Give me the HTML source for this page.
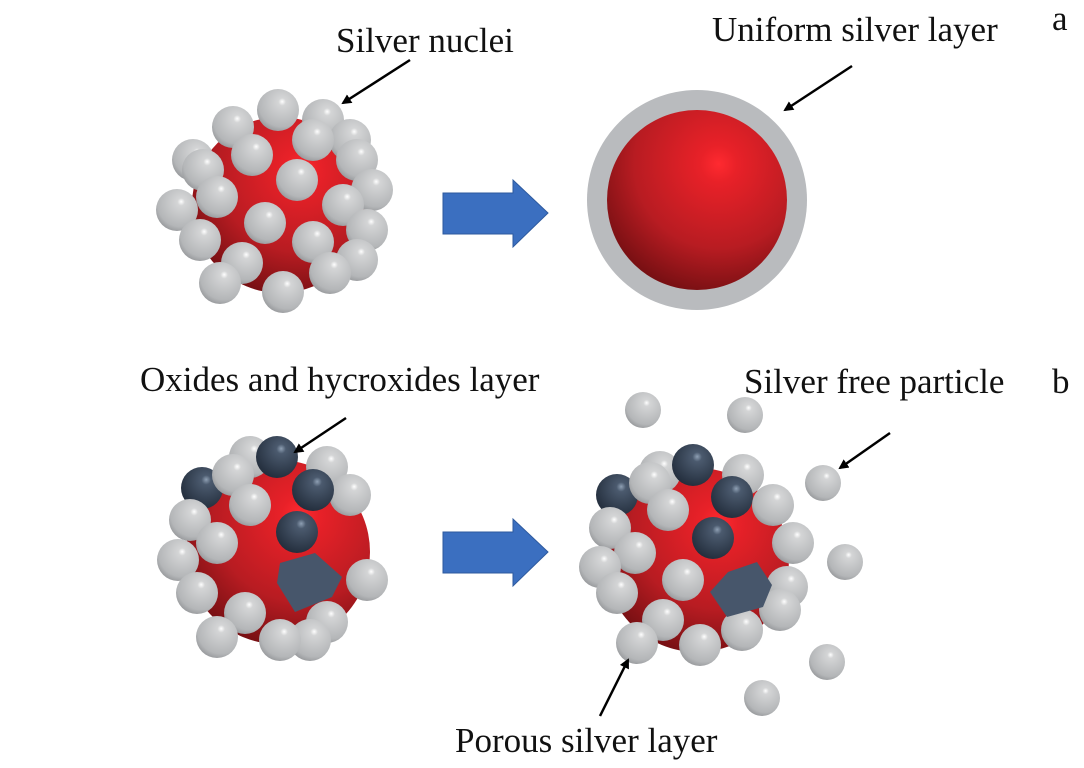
<!DOCTYPE html>
<html><head><meta charset="utf-8"><style>
html,body{margin:0;padding:0;background:#fff}
svg{display:block}
text{font-family:"Liberation Serif",serif;font-size:35px;fill:#111}
</style></head><body>
<svg width="1084" height="768" viewBox="0 0 1084 768">
<defs>
<radialGradient id="red" cx="0.62" cy="0.3" r="0.85" fx="0.62" fy="0.3">
<stop offset="0" stop-color="#ff2a30"/><stop offset="0.12" stop-color="#e82128"/>
<stop offset="0.55" stop-color="#b81c22"/><stop offset="1" stop-color="#5a0a0c"/>
</radialGradient>
<radialGradient id="ag" cx="0.6" cy="0.35" r="0.75" fx="0.6" fy="0.3">
<stop offset="0" stop-color="#ffffff"/><stop offset="0.12" stop-color="#d4d5d6"/>
<stop offset="0.75" stop-color="#b4b6b8"/><stop offset="1" stop-color="#8a8c8f"/>
</radialGradient>
<radialGradient id="dk" cx="0.6" cy="0.35" r="0.75" fx="0.6" fy="0.3">
<stop offset="0" stop-color="#8fa0b4"/><stop offset="0.15" stop-color="#4b5a6e"/>
<stop offset="1" stop-color="#1e2836"/>
</radialGradient>
<marker id="ah" markerWidth="10" markerHeight="10" refX="8" refY="5" orient="auto" markerUnits="userSpaceOnUse">
<path d="M0,0 L10,5 L0,10 z" fill="#000"/></marker>
<g id="b"><circle r="21" fill="url(#ag)"/></g>
<g id="d"><circle r="21" fill="url(#dk)"/></g>
<g id="f"><circle r="18" fill="url(#ag)"/></g>
</defs>

<circle cx="280" cy="205" r="88" fill="url(#red)"/>
<g>
<use href="#b" x="278" y="110"/><use href="#b" x="323" y="120"/><use href="#b" x="233" y="127"/>
<use href="#b" x="350" y="140"/><use href="#b" x="313" y="140"/><use href="#b" x="252" y="155"/>
<use href="#b" x="357" y="160"/><use href="#b" x="193" y="160"/><use href="#b" x="203" y="170"/>
<use href="#b" x="297" y="180"/><use href="#b" x="372" y="190"/><use href="#b" x="217" y="197"/>
<use href="#b" x="343" y="205"/><use href="#b" x="177" y="210"/><use href="#b" x="265" y="223"/>
<use href="#b" x="367" y="230"/><use href="#b" x="200" y="240"/><use href="#b" x="313" y="242"/>
<use href="#b" x="357" y="260"/><use href="#b" x="242" y="263"/><use href="#b" x="330" y="273"/>
<use href="#b" x="220" y="283"/><use href="#b" x="283" y="292"/>
</g>

<circle cx="697" cy="200" r="110" fill="#b9bbbe"/>
<circle cx="697" cy="200" r="90" fill="url(#red)"/>

<circle cx="278" cy="552" r="92" fill="url(#red)"/>
<use href="#b" x="250" y="457"/><use href="#d" x="277" y="457"/><use href="#b" x="327" y="467"/>
<use href="#b" x="350" y="495"/><use href="#d" x="202" y="488"/><use href="#b" x="233" y="475"/>
<use href="#d" x="313" y="490"/><use href="#b" x="250" y="505"/><use href="#b" x="190" y="520"/>
<use href="#d" x="297" y="532"/><use href="#b" x="217" y="543"/><use href="#b" x="178" y="560"/>
<use href="#b" x="367" y="580"/><use href="#b" x="197" y="593"/><use href="#b" x="245" y="613"/>
<use href="#b" x="327" y="622"/><use href="#b" x="217" y="637"/><use href="#b" x="310" y="640"/>
<use href="#b" x="280" y="640"/>
<polygon points="280,563 315,553 342,577 332,597 295,612 277,583" fill="#47566b"/>

<circle cx="697" cy="560" r="92" fill="url(#red)"/>
<use href="#b" x="660" y="472"/><use href="#d" x="693" y="465"/><use href="#b" x="743" y="475"/>
<use href="#d" x="617" y="495"/><use href="#b" x="650" y="483"/><use href="#d" x="732" y="497"/>
<use href="#b" x="773" y="505"/><use href="#b" x="668" y="510"/><use href="#b" x="610" y="528"/>
<use href="#d" x="713" y="538"/><use href="#b" x="793" y="543"/><use href="#b" x="635" y="553"/>
<use href="#b" x="600" y="567"/><use href="#b" x="683" y="580"/><use href="#b" x="787" y="587"/>
<use href="#b" x="617" y="593"/><use href="#b" x="780" y="610"/><use href="#b" x="663" y="620"/>
<use href="#b" x="742" y="630"/><use href="#b" x="637" y="643"/><use href="#b" x="700" y="645"/>
<polygon points="728,572 757,562 772,585 763,607 727,617 710,592" fill="#47566b"/>

<use href="#f" x="643" y="410"/><use href="#f" x="745" y="415"/><use href="#f" x="823" y="483"/>
<use href="#f" x="845" y="562"/><use href="#f" x="827" y="662"/><use href="#f" x="762" y="698"/>

<polygon points="443,193 513,193 513,180 548,213 513,247 513,234 443,234" fill="#3b6fc0" stroke="#2e5a9e" stroke-width="1"/>
<polygon points="443,532 513,532 513,519 548,552 513,586 513,573 443,573" fill="#3b6fc0" stroke="#2e5a9e" stroke-width="1"/>

<g stroke="#000" stroke-width="2.5" marker-end="url(#ah)">
<line x1="410" y1="60" x2="343" y2="103"/>
<line x1="852" y1="66" x2="785" y2="110"/>
<line x1="346" y1="418" x2="295" y2="452"/>
<line x1="890" y1="433" x2="840" y2="468"/>
<line x1="600" y1="716" x2="628" y2="660"/>
</g>

<text x="336" y="52">Silver nuclei</text>
<text x="712" y="41">Uniform silver layer</text>
<text x="1052" y="30">a</text>
<text x="140" y="391">Oxides and hycroxides layer</text>
<text x="744" y="393">Silver free particle</text>
<text x="1052" y="393">b</text>
<text x="455" y="752">Porous silver layer</text>
</svg>
</body></html>
